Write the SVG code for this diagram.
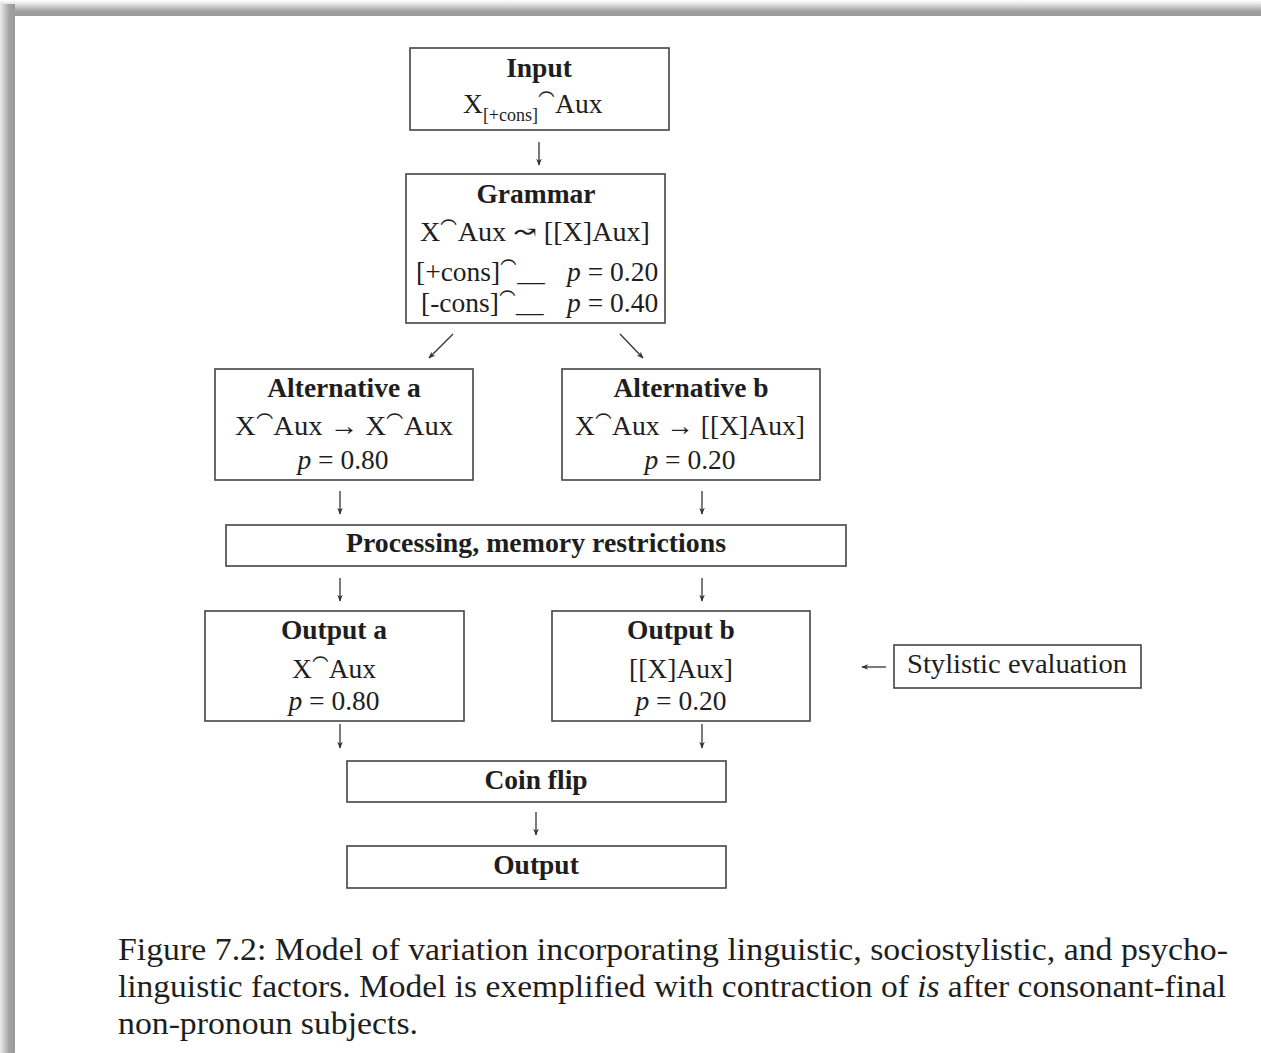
<svg xmlns="http://www.w3.org/2000/svg" width="1261" height="1053" viewBox="0 0 1261 1053">
  <defs>
    <linearGradient id="gTop" x1="0" y1="0" x2="0" y2="1">
      <stop offset="0" stop-color="#ffffff"/>
      <stop offset="0.25" stop-color="#e4e4e4"/>
      <stop offset="0.7" stop-color="#a0a0a0"/>
      <stop offset="1" stop-color="#999"/>
    </linearGradient>
    <linearGradient id="gLeft" x1="0" y1="0" x2="1" y2="0">
      <stop offset="0" stop-color="#ececec"/>
      <stop offset="0.6" stop-color="#a4a4a4"/>
      <stop offset="1" stop-color="#999"/>
    </linearGradient>
    <marker id="ah" viewBox="0 0 10 10" refX="9" refY="5" markerWidth="7" markerHeight="7" orient="auto" markerUnits="userSpaceOnUse">
      <path d="M0,1 L10,5 L0,9 L3,5 Z" fill="#333"/>
    </marker>
    <style>
      .box { fill: #fff; stroke: #444; stroke-width: 1.6; }
      .t { font-family: "Liberation Serif", "DejaVu Serif", serif; fill: #1e1e1e; font-size: 27.5px; }
      .c { text-anchor: middle; }
      .b { font-weight: bold; }
      .i { font-style: italic; }
      .sub { font-size: 18px; }
      .tie { font-size: 22px; }
      .cap { font-family: "Liberation Serif", "DejaVu Serif", serif; fill: #1e1e1e; font-size: 32px; }
      .conn { stroke: #333; stroke-width: 1.3; fill: none; }
    </style>
  </defs>

  <rect x="0" y="0" width="1261" height="1053" fill="#fff"/>
  <rect x="0" y="0" width="1261" height="16" fill="url(#gTop)"/>
  <rect x="0" y="4" width="15" height="1049" fill="url(#gLeft)"/>

  <g id="connectors">
    <line class="conn" x1="539" y1="142" x2="539" y2="165" marker-end="url(#ah)"/>
    <line class="conn" x1="453" y1="334" x2="429" y2="358" marker-end="url(#ah)"/>
    <line class="conn" x1="620" y1="334" x2="643" y2="358" marker-end="url(#ah)"/>
    <line class="conn" x1="340" y1="491" x2="340" y2="514" marker-end="url(#ah)"/>
    <line class="conn" x1="702" y1="491" x2="702" y2="514" marker-end="url(#ah)"/>
    <line class="conn" x1="340" y1="578" x2="340" y2="601" marker-end="url(#ah)"/>
    <line class="conn" x1="702" y1="578" x2="702" y2="601" marker-end="url(#ah)"/>
    <line class="conn" x1="340" y1="724" x2="340" y2="748" marker-end="url(#ah)"/>
    <line class="conn" x1="702" y1="724" x2="702" y2="748" marker-end="url(#ah)"/>
    <line class="conn" x1="536" y1="812" x2="536" y2="835" marker-end="url(#ah)"/>
    <line class="conn" x1="886" y1="667" x2="862" y2="667" marker-end="url(#ah)"/>
  </g>

  <g id="input">
    <rect class="box" x="410" y="48" width="259" height="82"/>
    <text class="t c b" x="539" y="77">Input</text>
    <text class="t" x="463" y="113">X<tspan class="sub" dy="8">[+cons]</tspan><tspan dy="-8">⁀Aux</tspan></text>
  </g>

  <g id="grammar">
    <rect class="box" x="406" y="174" width="259" height="149"/>
    <text class="t c b" x="536" y="203">Grammar</text>
    <text class="t c" x="535" y="241" textLength="230" lengthAdjust="spacingAndGlyphs">X⁀Aux ↝ [[X]Aux]</text>
    <text class="t" x="416" y="281">[+cons]⁀__</text>
    <text class="t" x="567" y="281"><tspan class="i">p</tspan> = 0.20</text>
    <text class="t" x="421" y="312">[-cons]⁀__</text>
    <text class="t" x="567" y="312"><tspan class="i">p</tspan> = 0.40</text>
  </g>

  <g id="alt-a">
    <rect class="box" x="215" y="369" width="258" height="111"/>
    <text class="t c b" x="344" y="397">Alternative a</text>
    <text class="t c" x="344" y="435" textLength="218" lengthAdjust="spacingAndGlyphs">X⁀Aux → X⁀Aux</text>
    <text class="t c" x="343" y="469"><tspan class="i">p</tspan> = 0.80</text>
  </g>

  <g id="alt-b">
    <rect class="box" x="562" y="369" width="258" height="111"/>
    <text class="t c b" x="691" y="397">Alternative b</text>
    <text class="t c" x="690" y="435" textLength="230" lengthAdjust="spacingAndGlyphs">X⁀Aux → [[X]Aux]</text>
    <text class="t c" x="690" y="469"><tspan class="i">p</tspan> = 0.20</text>
  </g>

  <g id="processing">
    <rect class="box" x="226" y="525" width="620" height="41"/>
    <text class="t c b" x="536" y="552" textLength="380" lengthAdjust="spacingAndGlyphs">Processing, memory restrictions</text>
  </g>

  <g id="output-a">
    <rect class="box" x="205" y="611" width="259" height="110"/>
    <text class="t c b" x="334" y="639">Output a</text>
    <text class="t c" x="334" y="678">X⁀Aux</text>
    <text class="t c" x="334" y="710"><tspan class="i">p</tspan> = 0.80</text>
  </g>

  <g id="output-b">
    <rect class="box" x="552" y="611" width="258" height="110"/>
    <text class="t c b" x="681" y="639">Output b</text>
    <text class="t c" x="681" y="678">[[X]Aux]</text>
    <text class="t c" x="681" y="710"><tspan class="i">p</tspan> = 0.20</text>
  </g>

  <g id="stylistic">
    <rect class="box" x="894" y="645" width="247" height="43"/>
    <text class="t c" x="1017" y="673" textLength="220" lengthAdjust="spacingAndGlyphs">Stylistic evaluation</text>
  </g>

  <g id="coin-flip">
    <rect class="box" x="347" y="761" width="379" height="41"/>
    <text class="t c b" x="536" y="789">Coin flip</text>
  </g>

  <g id="output">
    <rect class="box" x="347" y="846" width="379" height="42"/>
    <text class="t c b" x="536" y="874">Output</text>
  </g>

  <g id="caption">
    <text class="cap" x="118" y="960" textLength="1110" lengthAdjust="spacingAndGlyphs">Figure 7.2: Model of variation incorporating linguistic, sociostylistic, and psycho-</text>
    <text class="cap" x="118" y="997" textLength="1108" lengthAdjust="spacingAndGlyphs">linguistic factors. Model is exemplified with contraction of <tspan font-style="italic">is</tspan> after consonant-final</text>
    <text class="cap" x="118" y="1034" textLength="300" lengthAdjust="spacingAndGlyphs">non-pronoun subjects.</text>
  </g>
</svg>
